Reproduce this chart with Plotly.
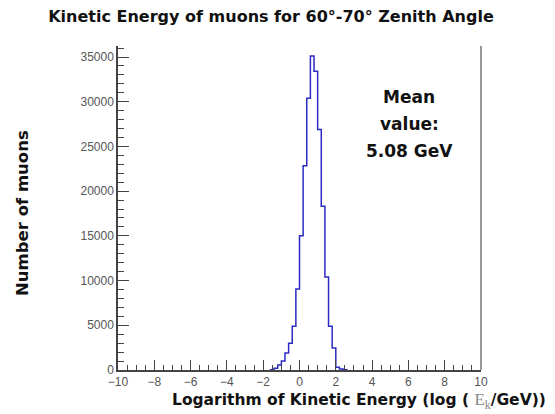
import plotly.graph_objects as go

# Histogram of log10(E_k / GeV): lower bin edges (width 0.2) and counts
bin_lo = [-1.6, -1.4, -1.2, -1.0, -0.8, -0.6, -0.4, -0.2, 0.0, 0.2, 0.4,
          0.6, 0.8, 1.0, 1.2, 1.4, 1.6, 1.8, 2.0, 2.2, 2.4]
counts = [40, 200, 550, 1000, 1900, 3000, 4900, 9050, 15000, 22850, 30400,
          35100, 33400, 26900, 18300, 10400, 4900, 2450, 300, 100, 30]
bin_width = 0.2

x_ticks = [-10, -8, -6, -4, -2, 0, 2, 4, 6, 8, 10]
y_ticks = [0, 5000, 10000, 15000, 20000, 25000, 30000, 35000]
y_labels = [str(v) for v in y_ticks]

mean_lines = ["Mean", "value:", "5.08 GeV"]

# Step outline built from the bin edges
xs = [bin_lo[0]]
ys = [0]
for lo, c in zip(bin_lo, counts):
    xs += [lo, lo + bin_width]
    ys += [c, c]
xs.append(bin_lo[-1] + bin_width)
ys.append(0)

fig = go.Figure()
fig.add_trace(go.Scatter(
    x=xs, y=ys, mode="lines",
    line=dict(color="#2b2bc4", width=1.5),
    hoverinfo="skip", showlegend=False,
))


def bold(size):
    return dict(family="DejaVu Sans", size=size, color="#111111", weight="bold")


tick_font = dict(family="Liberation Sans", size=12, color="#555")

fig.update_layout(
    width=555, height=414,
    margin=dict(l=118, r=74, t=46, b=44),
    paper_bgcolor="white", plot_bgcolor="white",
    title=dict(text="Kinetic Energy of muons for 60°-70° Zenith Angle",
               x=271 / 555, xanchor="center", y=1 - 16 / 414, yanchor="middle",
               font=bold(16)),
    xaxis=dict(
        range=[-10, 10], tickvals=x_ticks, ticks="inside", ticklen=10,
        tickcolor="#444", tickwidth=1, showline=True, linecolor="#444",
        linewidth=1.5, showgrid=False, zeroline=False, tickfont=tick_font,
        minor=dict(dtick=0.5, ticks="inside", ticklen=5, tickcolor="#444",
                   showgrid=False),
    ),
    yaxis=dict(
        range=[0, 36230], tickvals=y_ticks, ticktext=y_labels, ticks="inside",
        ticklen=11, tickcolor="#444", tickwidth=1, showline=True,
        linecolor="#444", linewidth=1.5, showgrid=False, zeroline=False,
        tickfont=tick_font,
        minor=dict(dtick=1000, ticks="inside", ticklen=6, tickcolor="#444",
                   showgrid=False),
    ),
)

# Right border of the frame
fig.add_shape(type="line", xref="paper", yref="paper", x0=1, x1=1, y0=0, y1=1,
              line=dict(color="#999999", width=2))

# Axis titles
fig.add_annotation(
    text="Logarithm of Kinetic Energy (log ( "
         "<span style='font-family:Liberation Serif;font-weight:normal;"
         "color:#888;font-size:17px'>E<sub>k</sub></span>/GeV))",
    xref="paper", yref="paper", x=(359 - 118) / 363, y=-(401 - 370) / 324,
    xanchor="center", yanchor="middle", showarrow=False, font=bold(15.5),
)
fig.add_annotation(
    text="Number of muons", textangle=-90,
    xref="paper", yref="paper", x=-(118 - 22) / 363, y=(370 - 213) / 324,
    xanchor="center", yanchor="middle", showarrow=False, font=bold(16.5),
)

# Mean value note
for i, line in enumerate(mean_lines):
    fig.add_annotation(
        text=line, xref="paper", yref="paper",
        x=(409 - 118) / 363, y=(370 - (97 + 27 * i)) / 324,
        xanchor="center", yanchor="middle", showarrow=False, font=bold(17),
    )

fig.write_html("out.html")
